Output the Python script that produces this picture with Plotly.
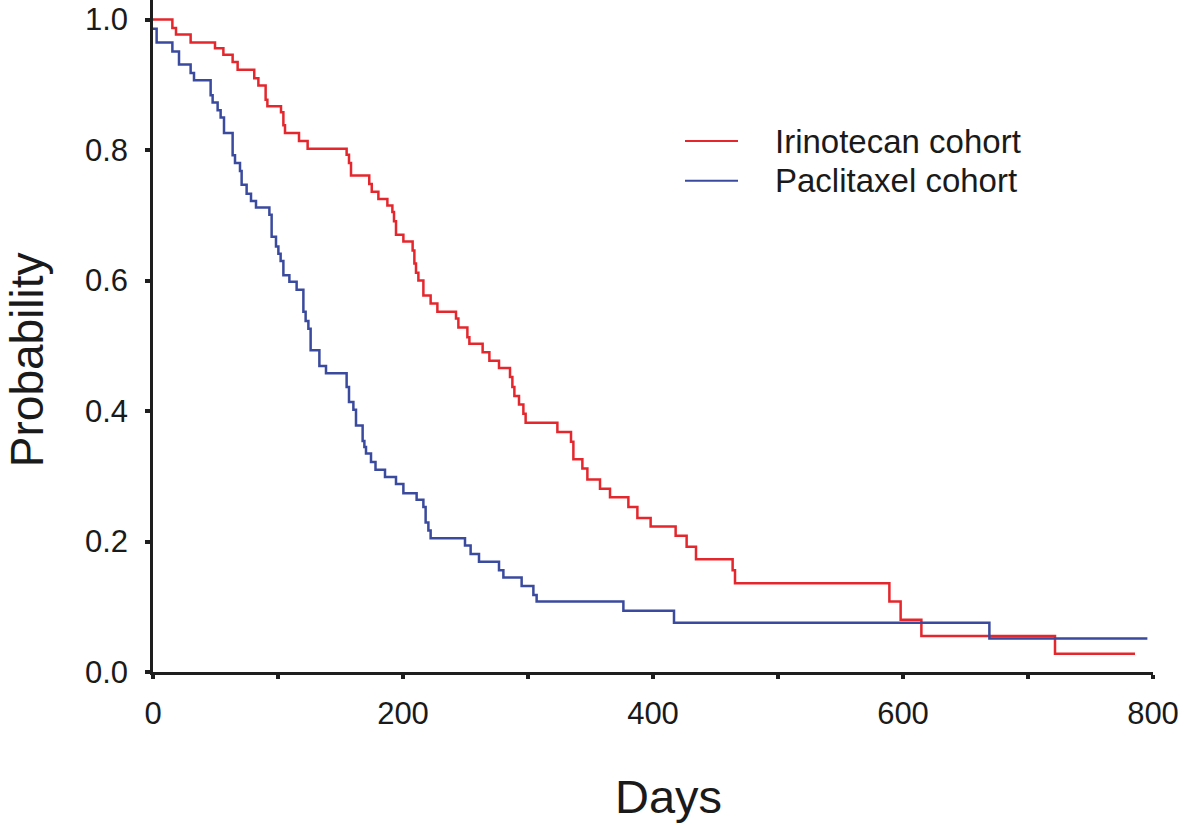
import plotly.graph_objects as go

# Kaplan-Meier step data (days, survival probability)
irinotecan_days = [0, 15.5, 18.4, 30.1, 49.6, 56.3, 63.7, 67.7, 81, 84.3,
                   90.1, 91.5, 102.4, 104.3, 105.6, 116.8, 123.7, 154.9, 156.8, 158.4,
                   173, 175, 180.3, 187.5, 191.5, 192.8, 194.4, 200.3, 207.7, 209.1,
                   210.4, 212.3, 216.3, 222.1, 227.5, 242.4, 244.3, 251.5, 253.1, 263.7,
                   269.1, 276.8, 285.6, 287.5, 289.1, 292.8, 296.3, 298.1, 323.5, 334.4,
                   336.3, 343.5, 347.5, 357.6, 365.6, 380.3, 387.5, 398.1, 418.1, 426.9,
                   434.4, 463.7, 465.6, 589.1, 598.1, 614.7, 721.6, 785.6]
irinotecan_surv = [1.0, 0.987, 0.977, 0.965, 0.956, 0.946, 0.935, 0.923, 0.910, 0.899,
                   0.877, 0.867, 0.858, 0.838, 0.826, 0.814, 0.802, 0.793, 0.780, 0.761,
                   0.748, 0.736, 0.725, 0.715, 0.705, 0.691, 0.670, 0.660, 0.646, 0.626,
                   0.612, 0.600, 0.577, 0.565, 0.552, 0.542, 0.528, 0.513, 0.503, 0.490,
                   0.477, 0.466, 0.452, 0.437, 0.423, 0.410, 0.396, 0.382, 0.368, 0.353,
                   0.326, 0.312, 0.295, 0.281, 0.268, 0.253, 0.236, 0.223, 0.209, 0.192,
                   0.173, 0.156, 0.136, 0.108, 0.080, 0.055, 0.028, 0.028]

paclitaxel_days = [0, 2.9, 15.5, 20.8, 30.1, 32.8, 46.1, 47.7, 51.7, 54.1,
                   56.8, 63.7, 65.6, 69.6, 70.9, 74.9, 78.4, 82.4, 93.1, 94.9,
                   98.4, 100.3, 102.1, 104.3, 109.1, 114.9, 120.3, 122.1, 124.3, 126.1,
                   133.1, 138.4, 154.9, 156.8, 160.3, 162.4, 167.7, 169.1, 170.4, 174.4,
                   178, 185.6, 194.4, 200.3, 210.9, 216.3, 218.1, 220.3, 222.1, 249.6,
                   254.1, 260.8, 276.8, 280.3, 294.9, 304.3, 306.9, 376.3, 416.8, 669.1,
                   795.5]
paclitaxel_surv = [0.986, 0.965, 0.951, 0.931, 0.918, 0.907, 0.884, 0.873, 0.861, 0.850,
                   0.826, 0.792, 0.780, 0.768, 0.747, 0.733, 0.722, 0.712, 0.701, 0.667,
                   0.652, 0.641, 0.630, 0.608, 0.598, 0.586, 0.552, 0.538, 0.526, 0.493,
                   0.469, 0.458, 0.437, 0.414, 0.402, 0.378, 0.354, 0.345, 0.335, 0.322,
                   0.310, 0.299, 0.288, 0.274, 0.264, 0.253, 0.229, 0.217, 0.205, 0.194,
                   0.181, 0.169, 0.156, 0.145, 0.132, 0.118, 0.108, 0.094, 0.0755, 0.0515,
                   0.0515]

series_names = ["Irinotecan cohort", "Paclitaxel cohort"]
x_tick_vals = [0, 200, 400, 600, 800]
y_tick_vals = [0.0, 0.2, 0.4, 0.6, 0.8, 1.0]

FONT = "Liberation Sans, Arial, Helvetica, sans-serif"
RED = "#E3272D"
BLUE = "#3A4A9E"
AXIS = "#1E1E1E"
TEXT = "#1A1A1A"
colors = [RED, BLUE]

fig = go.Figure()
for name, xs, ys, col in zip(series_names,
                             [irinotecan_days, paclitaxel_days],
                             [irinotecan_surv, paclitaxel_surv], colors):
    fig.add_trace(go.Scatter(x=xs, y=ys, mode="lines",
                             line=dict(color=col, width=2.5, shape="hv"),
                             name=name, showlegend=False))

# Legend drawn as paper-referenced swatches + labels (reference spacing)
legend_rows_y = [0.790, 0.731]
shapes = []
annotations = []
for name, col, yy in zip(series_names, colors, legend_rows_y):
    shapes.append(dict(type="line", xref="paper", yref="paper",
                       x0=0.532, x1=0.585, y0=yy, y1=yy,
                       line=dict(color=col, width=2)))
    annotations.append(dict(text=name, xref="paper", yref="paper",
                            x=0.620, y=yy, xanchor="left", yanchor="middle",
                            showarrow=False,
                            font=dict(size=33, family=FONT, color=TEXT)))

annotations += [
    dict(text="Days", xref="paper", yref="paper", x=0.515, y=-0.186,
         xanchor="center", yanchor="middle", showarrow=False,
         font=dict(size=47, family=FONT, color=TEXT)),
    dict(text="Probability", xref="paper", yref="paper", x=-0.126, y=0.464,
         xanchor="center", yanchor="middle", showarrow=False, textangle=-90,
         font=dict(size=46, family=FONT, color=TEXT)),
]

fig.update_layout(
    width=1181, height=823,
    margin=dict(l=153, r=28, t=0, b=151),
    paper_bgcolor="white", plot_bgcolor="white",
    font=dict(family=FONT, color=TEXT),
    showlegend=False,
    shapes=shapes,
    annotations=annotations,
    xaxis=dict(range=[0, 800], tickvals=x_tick_vals,
               showgrid=False, zeroline=False,
               showline=True, linecolor=AXIS, linewidth=2.5,
               ticks="outside", ticklen=4, tickwidth=4, tickcolor=AXIS,
               minor=dict(dtick=100, ticks="outside", ticklen=4, tickwidth=4, tickcolor=AXIS),
               tickfont=dict(size=31, family=FONT, color=TEXT),
               ticklabelstandoff=8),
    yaxis=dict(range=[0, 1.03], tickvals=y_tick_vals, tickformat=".1f",
               showgrid=False, zeroline=False,
               showline=True, linecolor=AXIS, linewidth=2.5,
               ticks="outside", ticklen=5, tickwidth=4, tickcolor=AXIS,
               tickfont=dict(size=31, family=FONT, color=TEXT),
               ticklabelstandoff=11),
)

fig.write_html("out.html",
               config={"displayModeBar": False},
               post_script="document.body.style.margin='0';document.body.style.padding='0';")
